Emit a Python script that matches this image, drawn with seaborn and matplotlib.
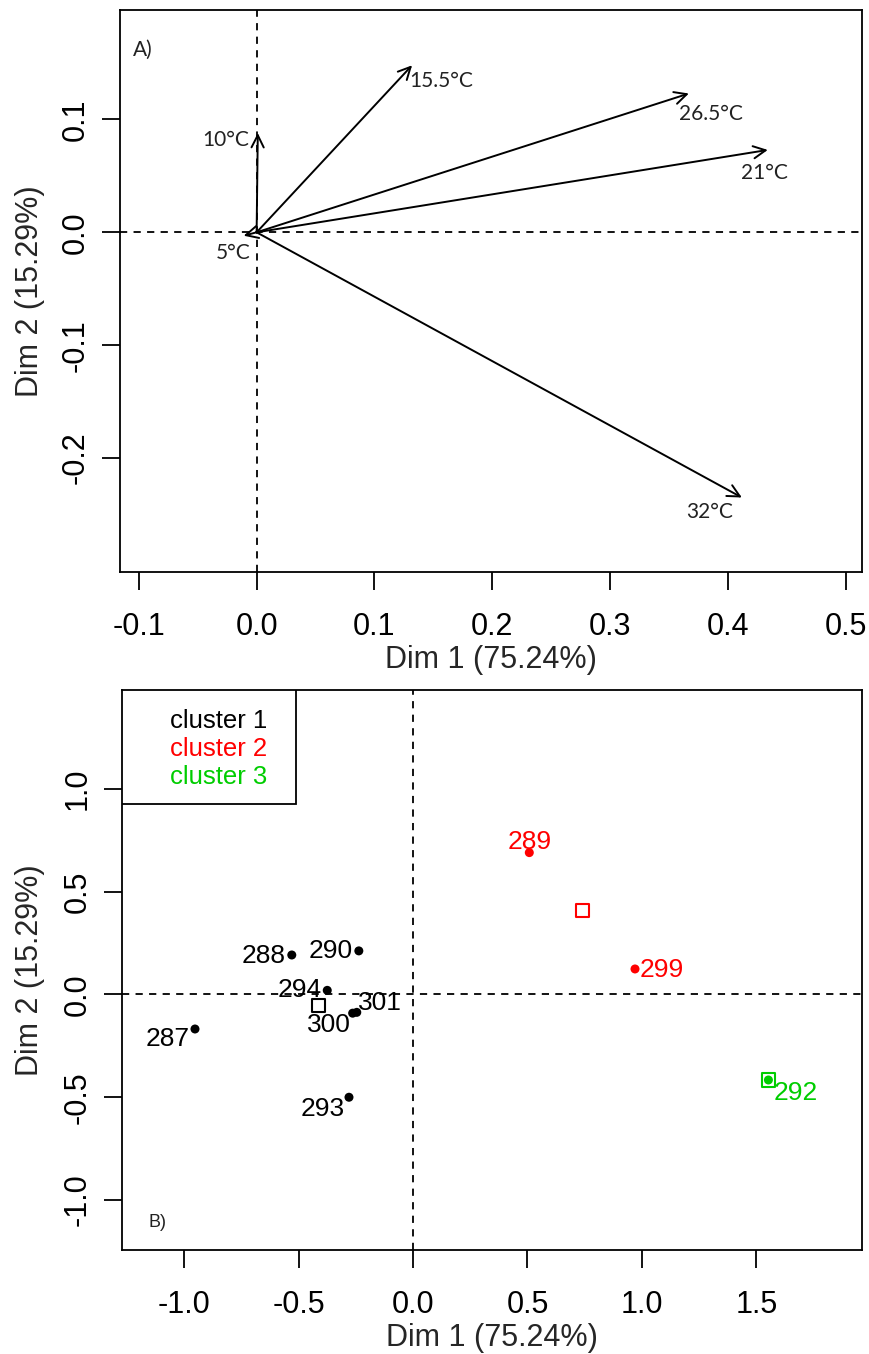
import matplotlib
matplotlib.use("Agg")
import matplotlib.pyplot as plt
import matplotlib.ticker as mticker
from matplotlib.patches import Rectangle
import seaborn as sns
import pandas as pd

# ---------------- data ----------------
# Panel A: variable arrows (temperatures)
temps = ["5°C", "10°C", "15.5°C", "21°C", "26.5°C", "32°C"]
var_dim1 = [-0.011, 0.001, 0.132, 0.434, 0.367, 0.412]
var_dim2 = [-0.003, 0.088, 0.148, 0.073, 0.123, -0.235]

# Panel B: individuals
ind_labels = ["287", "288", "290", "293", "294", "300", "301", "289", "299", "292"]
ind_dim1 = [-0.953, -0.530, -0.237, -0.280, -0.375, -0.264, -0.246, 0.508, 0.970, 1.553]
ind_dim2 = [-0.168, 0.192, 0.212, -0.500, 0.020, -0.091, -0.087, 0.690, 0.124, -0.416]
ind_cluster = ["cluster 1"] * 7 + ["cluster 2"] * 2 + ["cluster 3"]

# cluster centres
cluster_names = ["cluster 1", "cluster 2", "cluster 3"]
centre_dim1 = [-0.414, 0.742, 1.553]
centre_dim2 = [-0.054, 0.408, -0.416]

xlabel = "Dim 1 (75.24%)"
ylabel = "Dim 2 (15.29%)"
xticks_a = [-0.1, 0.0, 0.1, 0.2, 0.3, 0.4, 0.5]
yticks_a = [-0.2, -0.1, 0.0, 0.1]
xticks_b = [-1.0, -0.5, 0.0, 0.5, 1.0, 1.5]
yticks_b = [-1.0, -0.5, 0.0, 0.5, 1.0]

# ---------------- style ----------------
sns.set_theme(style="white")
plt.rcParams["font.family"] = ["Liberation Sans", "DejaVu Sans"]
plt.rcParams["axes.unicode_minus"] = False

colors = {"cluster 1": "black", "cluster 2": "#FF0000", "cluster 3": "#00CD00"}

W, H = 869, 1354
fig = plt.figure(figsize=(W / 100, H / 100), dpi=100)
fig.patch.set_facecolor("white")

ax1 = fig.add_axes([120 / W, 1 - 572 / H, 742 / W, 562 / H])
ax2 = fig.add_axes([122 / W, 1 - 1250 / H, 740 / W, 560 / H])


def style_axes(ax, xt, yt, height_px, width_px, left_px):
    for s in ax.spines.values():
        s.set_color("black")
        s.set_linewidth(1.3)
        s.set_visible(True)
    ax.set_xticks(xt)
    ax.set_yticks(yt)
    ax.xaxis.set_major_formatter(mticker.FormatStrFormatter("%.1f"))
    ax.yaxis.set_major_formatter(mticker.FormatStrFormatter("%.1f"))
    ax.tick_params(axis="both", direction="out", length=13, width=1.3,
                   color="black", labelsize=22, labelcolor="black",
                   bottom=True, left=True)
    ax.tick_params(axis="x", pad=16)
    ax.tick_params(axis="y", pad=8, labelrotation=90)
    for lbl in ax.get_yticklabels():
        lbl.set_va("center")
    ax.set_xlabel(xlabel, fontsize=22)
    ax.set_ylabel(ylabel, fontsize=22)
    ax.xaxis.set_label_coords(0.5, -73 / height_px)
    ax.yaxis.label.set_va("center")
    ax.yaxis.set_label_coords((30 - left_px) / width_px, 0.5)
    ax.grid(False)
    ax.set_facecolor("white")


# ---------------- panel A ----------------
ax1.set_xlim(-0.116, 0.514)
ax1.set_ylim(-0.301, 0.197)
ax1.axhline(0, color="black", lw=1.3, ls=(0, (4, 3.5)), zorder=1)
ax1.axvline(0, color="black", lw=1.3, ls=(0, (4, 3.5)), zorder=1)

# label placement (pixel offsets from arrow tip, alignment)
var_label_style = {
    "5°C": ((-10, -17), "center"),
    "10°C": ((-9, -7), "right"),
    "15.5°C": ((-3, -16), "left"),
    "21°C": ((-3, -23), "center"),
    "26.5°C": ((-10, -20), "left"),
    "32°C": ((-32, -14), "center"),
}
for name, x, y in zip(temps, var_dim1, var_dim2):
    ax1.annotate("", xy=(x, y), xytext=(0, 0), xycoords="data", textcoords="data",
                 arrowprops=dict(arrowstyle="->", lw=1.4, color="black",
                                 mutation_scale=22, shrinkA=0, shrinkB=0),
                 zorder=3)
    off, ha = var_label_style[name]
    ax1.annotate(name, xy=(x, y), xytext=off, textcoords="offset pixels",
                 ha=ha, va="center", fontsize=15, family=["Lato", "DejaVu Sans"],
                 color="#222222")
ax1.text(-0.097, 0.162, "A)", fontsize=15, family=["Lato", "DejaVu Sans"],
         ha="center", va="center", color="#222222")
style_axes(ax1, xticks_a, yticks_a, 562, 742, 120)

# ---------------- panel B ----------------
df = pd.DataFrame({"Dim1": ind_dim1, "Dim2": ind_dim2, "cluster": ind_cluster,
                   "label": ind_labels})
cent = pd.DataFrame({"Dim1": centre_dim1, "Dim2": centre_dim2, "cluster": cluster_names})

ax2.set_xlim(-1.272, 1.962)
ax2.set_ylim(-1.243, 1.481)
ax2.axhline(0, color="black", lw=1.3, ls=(0, (4, 3.5)), zorder=1)
ax2.axvline(0, color="black", lw=1.3, ls=(0, (4, 3.5)), zorder=1)

sns.scatterplot(data=df, x="Dim1", y="Dim2", hue="cluster", palette=colors,
                s=42, edgecolor="none", legend=False, ax=ax2, zorder=3)
sns.scatterplot(data=cent, x="Dim1", y="Dim2", hue="cluster", palette=colors,
                marker="s", s=90, linewidth=1.5, legend=False, ax=ax2, zorder=4)
# open squares: seaborn sets facecolor from hue; make hollow
coll = ax2.collections[-1]
ec = coll.get_facecolors()
coll.set_edgecolors(ec)
coll.set_facecolors("none")

ind_label_style = {
    "287": ((-5, -10), "right"),
    "288": ((-6, -1), "right"),
    "290": ((-6, 0), "right"),
    "293": ((-4, -12), "right"),
    "294": ((-6, 0), "right"),
    "300": ((-2, -12), "right"),
    "301": ((1, 9), "left"),
    "289": ((0, 11), "center"),
    "299": ((5, -1), "left"),
    "292": ((5, -13), "left"),
}
for lab, x, y, c in zip(ind_labels, ind_dim1, ind_dim2, ind_cluster):
    off, ha = ind_label_style[lab]
    ax2.annotate(lab, xy=(x, y), xytext=off, textcoords="offset pixels",
                 ha=ha, va="center", fontsize=19, color=colors[c])

# legend box
ax2.add_patch(Rectangle((0, 0.796), 0.235, 0.204, transform=ax2.transAxes,
                        facecolor="white", edgecolor="black", lw=1.3, zorder=5))
for i, name in enumerate(cluster_names):
    ax2.text(0.065, 0.945 - 0.05 * i, name, transform=ax2.transAxes,
             fontsize=18.5, color=colors[name], ha="left", va="center", zorder=6)

ax2.text(-1.119, -1.107, "B)", fontsize=13, ha="center", va="center", color="#222222")
style_axes(ax2, xticks_b, yticks_b, 560, 740, 122)

fig.savefig("out.png", dpi=100, facecolor="white")
